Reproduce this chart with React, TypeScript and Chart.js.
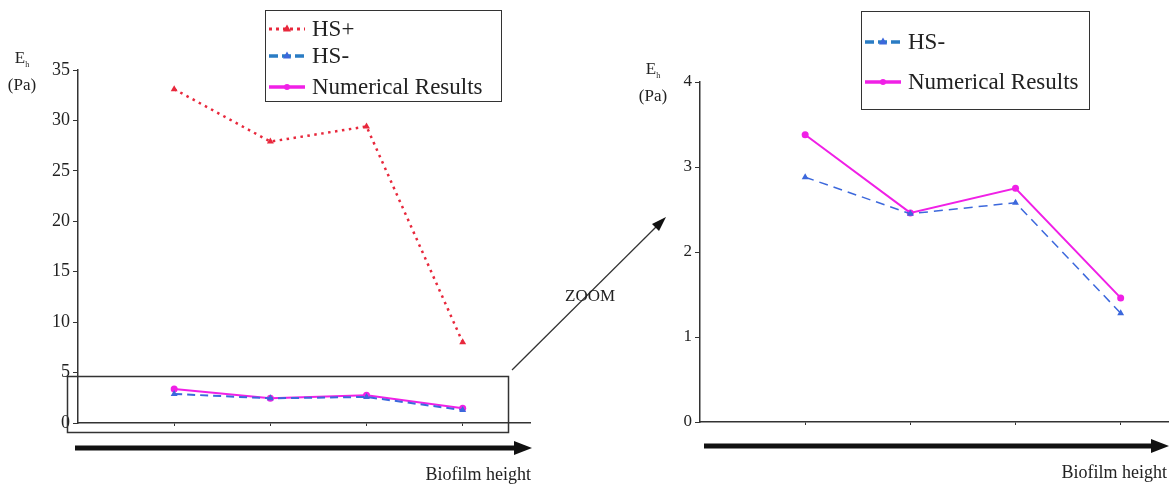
import React, { useEffect, useRef } from 'react';
import { Chart, registerables } from 'chart.js';
Chart.register(...registerables);

// ---------- data ----------
const positions = [1, 2, 3, 4];
const hsPlus = [33.1, 27.9, 29.4, 8.0];
const hsMinus = [2.88, 2.45, 2.58, 1.28];
const numerical = [3.38, 2.46, 2.75, 1.46];
const leftYMax = 35;
const leftYStep = 5;
const rightYMax = 4;
const rightYStep = 1;
const leftLegend = ['HS+', 'HS-', 'Numerical Results'];
const rightLegend = ['HS-', 'Numerical Results'];
const xTitle = 'Biofilm height';
const zoomLabel = 'ZOOM';

const RED = '#e8283c';
const BLUE = '#3c68dc';
const BLUE_LEG = '#2a7cc4';
const MAGENTA = '#f020e6';
const AXIS = '#333333';
const FONT = "'Liberation Serif', 'Times New Roman', serif";

function pts(vals: number[]) {
  return positions.map((x, i) => ({ x, y: vals[i] }));
}

function buildConfig(o: any) {
  return {
    type: 'line',
    data: { datasets: o.datasets },
    options: {
      animation: false,
      responsive: false,
      maintainAspectRatio: false,
      devicePixelRatio: 1,
      layout: { padding: o.padding },
      plugins: { legend: { display: false }, tooltip: { enabled: false } },
      scales: {
        x: {
          type: 'linear',
          min: 0,
          max: o.xMax,
          afterBuildTicks: (s: any) => {
            s.ticks = positions.map((v) => ({ value: v }));
          },
          afterFit: (s: any) => {
            s.height = o.xHeight;
          },
          ticks: { callback: () => '', display: true },
          grid: { drawOnChartArea: false, drawTicks: true, tickLength: 3, color: AXIS, lineWidth: 1 },
          border: { display: true, color: AXIS, width: 1.5 },
        },
        y: {
          type: 'linear',
          min: 0,
          max: o.yMax,
          ticks: {
            stepSize: o.yStep,
            color: '#222',
            font: { family: FONT, size: o.tickSize },
            padding: 3,
          },
          afterFit: (s: any) => {
            s.width = o.yWidth;
          },
          grid: { drawOnChartArea: false, drawTicks: true, tickLength: 5, color: AXIS, lineWidth: 1 },
          border: { display: true, color: AXIS, width: 1.5 },
        },
      },
    },
  };
}

function ChartCanvas({ left, width, cfg }: any) {
  const ref = useRef<HTMLCanvasElement>(null);
  useEffect(() => {
    const c = new Chart(ref.current as any, cfg as any);
    return () => c.destroy();
  }, []);
  return (
    <canvas
      ref={ref}
      width={width}
      height={486}
      style={{ position: 'absolute', left, top: 0, width, height: 486 }}
    />
  );
}

function LegendSample({ kind }: { kind: string }) {
  if (kind === 'HS+')
    return (
      <svg width={38} height={12} style={{ display: 'block' }}>
        <line x1={1} y1={6} x2={37} y2={6} stroke={RED} strokeWidth={3} strokeDasharray="3 4" />
        <polygon points="19,1.5 23,8.5 15,8.5" fill={RED} />
      </svg>
    );
  if (kind === 'HS-')
    return (
      <svg width={38} height={12} style={{ display: 'block' }}>
        <line x1={1} y1={6} x2={37} y2={6} stroke={BLUE_LEG} strokeWidth={3.5} strokeDasharray="9 4" />
        <polygon points="19,1.5 23,8.5 15,8.5" fill={BLUE} />
      </svg>
    );
  return (
    <svg width={38} height={12} style={{ display: 'block' }}>
      <line x1={1} y1={6} x2={37} y2={6} stroke={MAGENTA} strokeWidth={3.5} />
      <circle cx={19} cy={6} r={3} fill={MAGENTA} />
    </svg>
  );
}

function Legend({ left, top, width, height, items, rowYs }: any) {
  return (
    <div
      style={{
        position: 'absolute',
        left,
        top,
        width,
        height,
        border: `1.5px solid ${AXIS}`,
        boxSizing: 'border-box',
        background: '#fff',
      }}
    >
      {items.map((it: string, i: number) => (
        <div
          key={it}
          style={{
            position: 'absolute',
            left: 2,
            top: rowYs[i] - 13,
            height: 26,
            display: 'flex',
            alignItems: 'center',
            whiteSpace: 'nowrap',
          }}
        >
          <LegendSample kind={it} />
          <span style={{ marginLeft: 6, fontFamily: FONT, fontSize: 23, color: '#222', lineHeight: '26px' }}>{it}</span>
        </div>
      ))}
    </div>
  );
}

function YLabel({ left, top }: any) {
  return (
    <div style={{ position: 'absolute', left, top, fontFamily: FONT, fontSize: 17, color: '#222', lineHeight: '20px', textAlign: 'center', width: 40 }}>
      <div>
        E<span style={{ fontSize: 8, verticalAlign: 'sub' }}>h</span>
      </div>
      <div>(Pa)</div>
    </div>
  );
}

export default function App() {
  const leftCfg = buildConfig({
    datasets: [
      {
        label: 'HS+',
        data: pts(hsPlus),
        borderColor: RED,
        backgroundColor: RED,
        borderWidth: 2.5,
        borderDash: [2.5, 4.5],
        pointStyle: 'triangle',
        pointRadius: 4,
        pointBorderWidth: 0,
      },
      {
        label: 'HS-',
        data: pts(hsMinus),
        borderColor: BLUE,
        backgroundColor: BLUE,
        borderWidth: 2,
        borderDash: [8, 5],
        pointStyle: 'triangle',
        pointRadius: 4,
        pointBorderWidth: 0,
      },
      {
        label: 'Numerical Results',
        data: pts(numerical),
        borderColor: MAGENTA,
        backgroundColor: MAGENTA,
        borderWidth: 2,
        pointStyle: 'circle',
        pointRadius: 3.5,
        pointBorderWidth: 0,
      },
    ],
    padding: { top: 70, right: 70, left: 0, bottom: 0 },
    xMax: 4.7,
    xHeight: 63,
    yWidth: 78,
    yMax: leftYMax,
    yStep: leftYStep,
    tickSize: 18,
  });

  const rightCfg = buildConfig({
    datasets: [
      {
        label: 'HS-',
        data: pts(hsMinus),
        borderColor: BLUE,
        backgroundColor: BLUE,
        borderWidth: 1.5,
        borderDash: [9, 6],
        pointStyle: 'triangle',
        pointRadius: 4,
        pointBorderWidth: 0,
      },
      {
        label: 'Numerical Results',
        data: pts(numerical),
        borderColor: MAGENTA,
        backgroundColor: MAGENTA,
        borderWidth: 2,
        pointStyle: 'circle',
        pointRadius: 3.5,
        pointBorderWidth: 0,
      },
    ],
    padding: { top: 82, right: 5, left: 0, bottom: 0 },
    xMax: 4.45,
    xHeight: 64,
    yWidth: 100,
    yMax: rightYMax,
    yStep: rightYStep,
    tickSize: 17,
  });

  return (
    <div style={{ position: 'absolute', left: 0, top: 0, width: 1173, height: 486, background: '#fff', overflow: 'hidden' }}>
      <ChartCanvas left={0} width={600} cfg={leftCfg} />
      <ChartCanvas left={600} width={573} cfg={rightCfg} />
      <svg width={1173} height={486} style={{ position: 'absolute', left: 0, top: 0, pointerEvents: 'none' }}>
        {/* zoom box */}
        <rect x={67.5} y={376.5} width={441} height={56} fill="none" stroke={AXIS} strokeWidth={1.5} />
        {/* zoom arrow */}
        <line x1={512} y1={370} x2={658} y2={225} stroke={AXIS} strokeWidth={1.3} />
        <polygon points="666,217 652,224 659,231" fill="#111" />
        {/* bottom arrows */}
        <rect x={75} y={445.5} width={442} height={5} fill="#111" />
        <polygon points="532,448 514,441 514,455" fill="#111" />
        <rect x={704} y={443.5} width={450} height={5} fill="#111" />
        <polygon points="1169,446 1151,439 1151,453" fill="#111" />
      </svg>
      <div style={{ position: 'absolute', left: 565, top: 286, fontFamily: FONT, fontSize: 17, color: '#222' }}>{zoomLabel}</div>
      <div style={{ position: 'absolute', right: 1173 - 531, top: 464, fontFamily: FONT, fontSize: 18, color: '#222', whiteSpace: 'nowrap' }}>{xTitle}</div>
      <div style={{ position: 'absolute', right: 1173 - 1167, top: 462, fontFamily: FONT, fontSize: 18, color: '#222', whiteSpace: 'nowrap' }}>{xTitle}</div>
      <YLabel left={2} top={48} />
      <YLabel left={633} top={59} />
      <Legend left={265} top={10} width={237} height={92} items={leftLegend} rowYs={[18, 45, 76]} />
      <Legend left={861} top={11} width={229} height={99} items={rightLegend} rowYs={[30, 70]} />
    </div>
  );
}
